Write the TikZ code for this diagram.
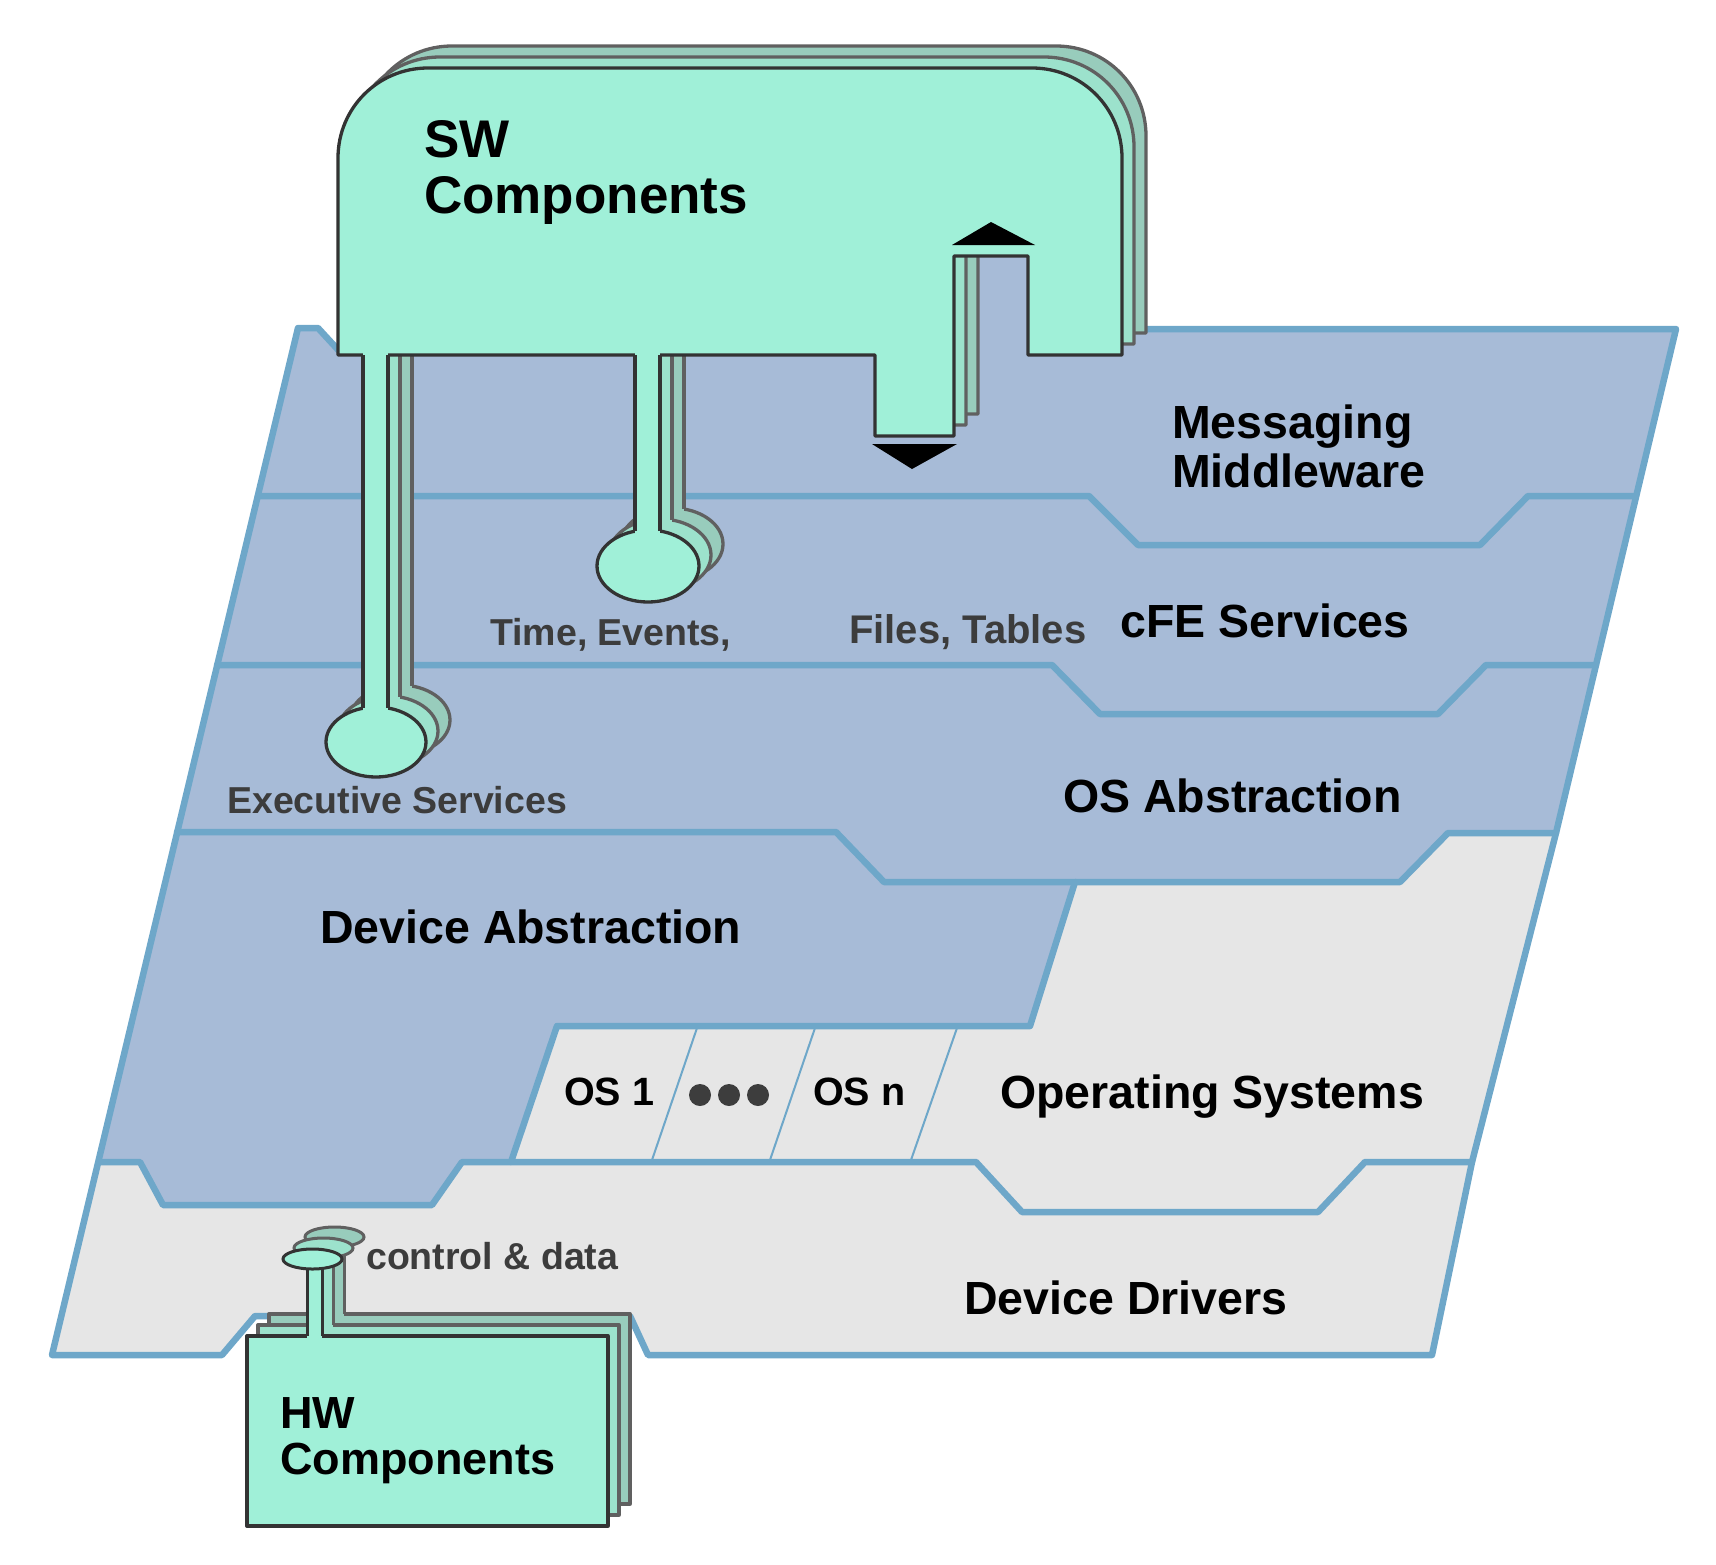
\documentclass[tikz,border=0pt]{standalone}
\usepackage{fontspec}
\setmainfont{Liberation Sans}
\definecolor{mint}{HTML}{A0F0D8}
\definecolor{mintA}{HTML}{9CE2CC}
\definecolor{mintB}{HTML}{98CCBC}
\definecolor{layerblue}{HTML}{A7BBD7}
\definecolor{layergray}{HTML}{E6E6E6}
\definecolor{edgeblue}{HTML}{6EA7C9}
\definecolor{boxline}{HTML}{333333}
\definecolor{copyline}{HTML}{606060}
\definecolor{labelgray}{HTML}{3C3C3C}
\definecolor{dotgray}{HTML}{3D3D3D}

\newcommand\swgroup[2]{%
  \filldraw[fill=#1,draw=#2,line width=3.3pt,line join=round]
    (338,355) -- (338,158) .. controls (338,108) and (378,68) .. (428,68)
    -- (1032,68) .. controls (1082,68) and (1122,108) .. (1122,158)
    -- (1122,355) -- (1028,355) -- (1028,256) -- (954,256) -- (954,436)
    -- (875,436) -- (875,355) -- cycle;
  \filldraw[fill=#1,draw=#2,line width=3.3pt] (376,742) ellipse [x radius=50pt, y radius=35pt];
  \filldraw[fill=#1,draw=#2,line width=3.3pt] (648,566) ellipse [x radius=51pt, y radius=36pt];
  \fill[#1] (363,351) rectangle (388,742);
  \fill[#1] (635,351) rectangle (660,566);
  \draw[#2,line width=3.3pt] (363,355) -- (363,708) (388,355) -- (388,708);
  \draw[#2,line width=3.3pt] (635,355) -- (635,531) (660,355) -- (660,531);
}
\newcommand\hwgroup[2]{%
  \filldraw[fill=#1,draw=#2,line width=3.3pt,line join=round] (247,1336) rectangle (608,1526);
  \fill[#1] (307,1259) rectangle (322,1339);
  \draw[#2,line width=3pt] (307,1262) -- (307,1336) (322,1262) -- (322,1336);
  \filldraw[fill=#1,draw=#2,line width=3pt] (312.5,1259) ellipse [x radius=29.5pt, y radius=10pt];
}

\begin{document}
\begin{tikzpicture}[x=1pt,y=-1pt,
  edge/.style={draw=edgeblue,line width=6.5pt,line join=round,line cap=round},
  osdiv/.style={draw=edgeblue,line width=2pt},
  big/.style={font=\fontsize{46.5}{49}\selectfont\bfseries,inner sep=0pt,text=black},
  small/.style={font=\fontsize{37.5}{40}\selectfont\bfseries,inner sep=0pt,text=labelgray},
  oslabel/.style={font=\fontsize{39.5}{42}\selectfont\bfseries,inner sep=0pt,text=black}]
\useasboundingbox (0,0) rectangle (1716,1564);

% ---- layer fills
\fill[layerblue] (298,328) -- (318,328) -- (341,353) -- (345,240) -- (1100,240)
  -- (1100,329) -- (1676,329) -- (1556,833) -- (1448,833) -- (1400,882)
  -- (1075,882) -- (1030,1026) -- (557,1026) -- (511,1162) -- (462,1162)
  -- (432,1205) -- (163,1205) -- (140,1162) -- (99,1162) -- cycle;
\fill[layergray] (1556,833) -- (1472,1162) -- (1432,1355) -- (648,1355) -- (630,1316) -- (255,1316)
  -- (222,1355) -- (52,1355) -- (99,1162) -- (140,1162) -- (163,1205) -- (432,1205)
  -- (462,1162) -- (511,1162) -- (557,1026) -- (1030,1026) -- (1075,882)
  -- (1400,882) -- (1448,833) -- cycle;

% ---- OS dividers
\draw[osdiv] (697,1028) -- (652,1160);
\draw[osdiv] (815,1028) -- (770,1160);
\draw[osdiv] (957,1028) -- (911,1160);

% ---- layer edges
\draw[edge] (1100,329) -- (1676,329) -- (1556,833) -- (1472,1162) -- (1432,1355) -- (648,1355) -- (630,1316)
  -- (255,1316) -- (222,1355) -- (52,1355) -- (298,328) -- (318,328) -- (341,353);
\draw[edge] (258,496) -- (1089,496) -- (1138,545) -- (1480,545) -- (1528,496) -- (1636,496);
\draw[edge] (217,665) -- (1052,665) -- (1100,714) -- (1438,714) -- (1486,665) -- (1596,665);
\draw[edge] (177,832) -- (836,832) -- (884,882) -- (1400,882) -- (1448,833) -- (1556,833);
\draw[edge] (1075,882) -- (1030,1026) -- (557,1026) -- (511,1162);
\draw[edge] (99,1162) -- (140,1162) -- (163,1205) -- (432,1205) -- (462,1162)
  -- (976,1162) -- (1022,1212) -- (1318,1212) -- (1365,1162) -- (1472,1162);

% ---- dots
\fill[dotgray] (700,1095) circle [radius=11pt];
\fill[dotgray] (729,1095) circle [radius=11pt];
\fill[dotgray] (758,1095) circle [radius=11pt];

% ---- SW components (two copies behind, then front)
\begin{scope}[shift={(24,-22)}]\swgroup{mintB}{copyline}\end{scope}
\begin{scope}[shift={(12,-11)}]\swgroup{mintA}{copyline}\end{scope}
\swgroup{mint}{boxline}
\fill[black] (952,245) -- (1035,245) -- (991,222) -- cycle;
\fill[black] (872,444) -- (957,444) -- (912,469) -- cycle;

% ---- HW components
\begin{scope}[shift={(22,-22)}]\hwgroup{mintB}{copyline}\end{scope}
\begin{scope}[shift={(11,-11)}]\hwgroup{mintA}{copyline}\end{scope}
\hwgroup{mint}{boxline}

% ---- labels
\node[font=\fontsize{53}{56}\selectfont\bfseries,inner sep=0pt,anchor=north west,align=left] (sw) at (424,120) {SW\\Components};
\node[font=\fontsize{45}{46}\selectfont\bfseries,inner sep=0pt,anchor=north west,align=left] (hw) at (280,1397) {HW\\Components};
\node[big,anchor=north west,align=left] (msg) at (1172,405) {Messaging\\Middleware};
\node[big,anchor=base west] (cfe) at (1120,637) {cFE Services};
\node[big,anchor=base west] (osa) at (1063,812) {OS Abstraction};
\node[big,anchor=base west] (dva) at (320,943) {Device Abstraction};
\node[big,anchor=base west] (ops) at (1000,1108) {Operating Systems};
\node[big,anchor=base west] (dvd) at (964,1314) {Device Drivers};
\node[small,anchor=base west] (tev) at (490,645) {Time, Events,};
\node[small,font=\fontsize{40}{42}\selectfont\bfseries,anchor=base west] (ftb) at (849,643) {Files, Tables};
\node[small,anchor=base west] (exs) at (227,813) {Executive Services};
\node[small,anchor=base west] (cad) at (366,1269) {control \& data};
\node[oslabel,anchor=base west] (os1) at (564,1105) {OS 1};
\node[oslabel,anchor=base west] (osn) at (813,1105) {OS n};
\end{tikzpicture}
\end{document}
